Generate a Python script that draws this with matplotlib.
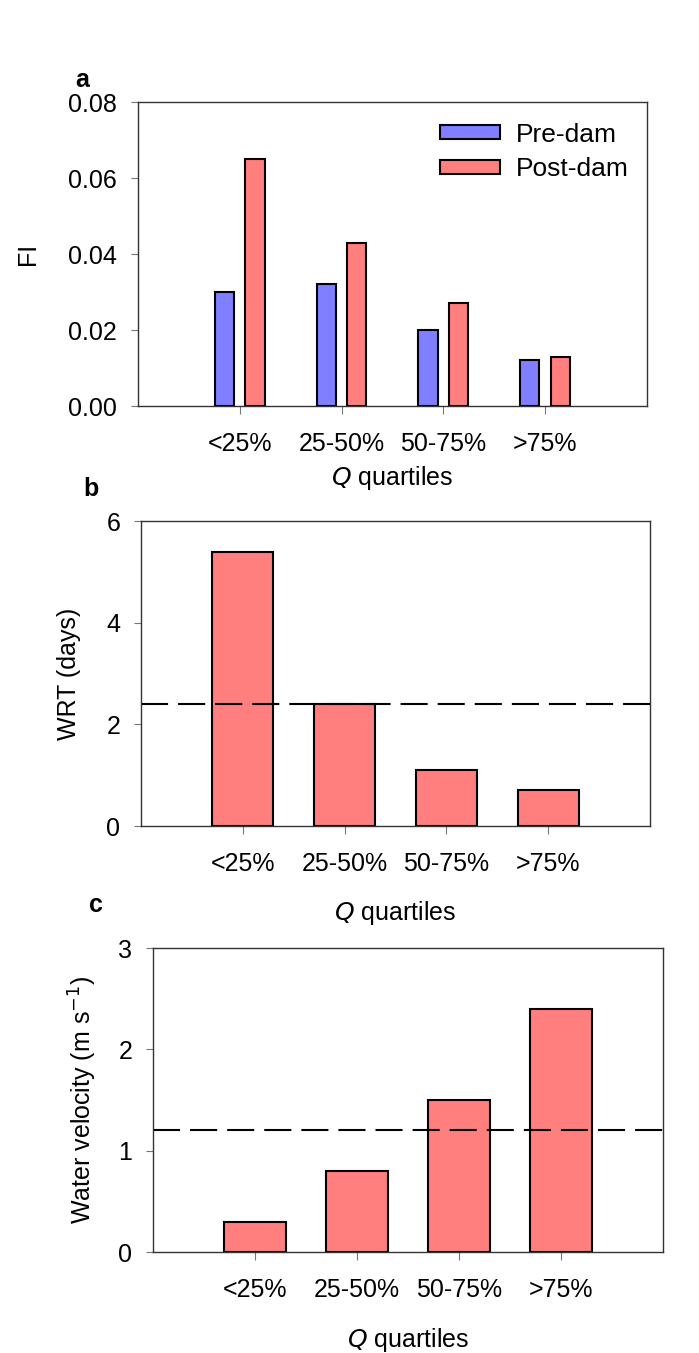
import numpy as np
import matplotlib.pyplot as plt

plt.rcParams['font.family'] = ['Liberation Sans', 'DejaVu Sans']
plt.rcParams['font.size'] = 18

# data
quartiles = ['<25%', '25-50%', '50-75%', '>75%']
fi_pre = [0.030, 0.032, 0.020, 0.012]
fi_post = [0.065, 0.043, 0.027, 0.013]
wrt = [5.4, 2.4, 1.1, 0.7]
wrt_ref = 2.4
velocity = [0.3, 0.8, 1.5, 2.4]
velocity_ref = 1.2

blue = '#7f7fff'
red = '#ff7f7f'
pos = np.arange(1, len(quartiles) + 1)

fig = plt.figure(figsize=(6.99, 13.53), dpi=100)
ax1 = fig.add_axes([0.1974, 0.6999, 0.728, 0.2247])
ax2 = fig.add_axes([0.2017, 0.3895, 0.728, 0.2254])
ax3 = fig.add_axes([0.2189, 0.0746, 0.7296, 0.2247])


def style(ax, ylim, yticks, fmt, ylabel, ylab_x, xlab_y):
    ax.set_xlim(0, 5)
    ax.set_ylim(*ylim)
    ax.set_xticks(pos)
    ax.set_xticklabels(quartiles)
    ax.set_yticks(yticks)
    ax.set_yticklabels([fmt % v for v in yticks])
    for s in ax.spines.values():
        s.set_linewidth(1.0)
        s.set_color('#333333')
    ax.tick_params(axis='x', length=6, width=0.8, color='#777777', pad=13)
    ax.tick_params(axis='y', length=5, width=0.8, color='#777777', pad=10)
    ax.set_ylabel(ylabel, va='center')
    ax.yaxis.set_label_coords(ylab_x, 0.5)
    ax.set_xlabel(r'$\mathit{Q}$ quartiles')
    ax.xaxis.label.set_va('center')
    ax.xaxis.set_label_coords(0.5, xlab_y)


# a: flashiness index before / after dam
ax1.bar(pos - 0.15, fi_pre, width=0.19, color=blue, edgecolor='black', linewidth=1.5, label='Pre-dam')
ax1.bar(pos + 0.15, fi_post, width=0.19, color=red, edgecolor='black', linewidth=1.5, label='Post-dam')
style(ax1, (0, 0.08), [0, 0.02, 0.04, 0.06, 0.08], '%.2f', 'FI', -0.216, -0.237)
ax1.legend(loc='upper left', bbox_to_anchor=(0.546, 1.01), frameon=False, fontsize=19,
           handlelength=2.3, handleheight=0.45, handletextpad=0.6, labelspacing=0.4)

# b: water residence time
ax2.bar(pos, wrt, width=0.6, color=red, edgecolor='black', linewidth=1.5)
ax2.axhline(wrt_ref, color='black', linewidth=1.5, dashes=(13, 4.8))
style(ax2, (0, 6), [0, 2, 4, 6], '%d', 'WRT (days)', -0.141, -0.285)

# c: water velocity
ax3.bar(pos, velocity, width=0.6, color=red, edgecolor='black', linewidth=1.5)
ax3.axhline(velocity_ref, color='black', linewidth=1.5, dashes=(13, 4.8))
style(ax3, (0, 3), [0, 1, 2, 3], '%d', r'Water velocity (m s$^{-1}$)', -0.137, -0.289)

fig.text(82 / 699, 1 - 80 / 1353, 'a', fontweight='bold', ha='center', va='center')
fig.text(91 / 699, 1 - 489 / 1353, 'b', fontweight='bold', ha='center', va='center')
fig.text(96 / 699, 1 - 905 / 1353, 'c', fontweight='bold', ha='center', va='center')

fig.savefig('out.png', dpi=100)
